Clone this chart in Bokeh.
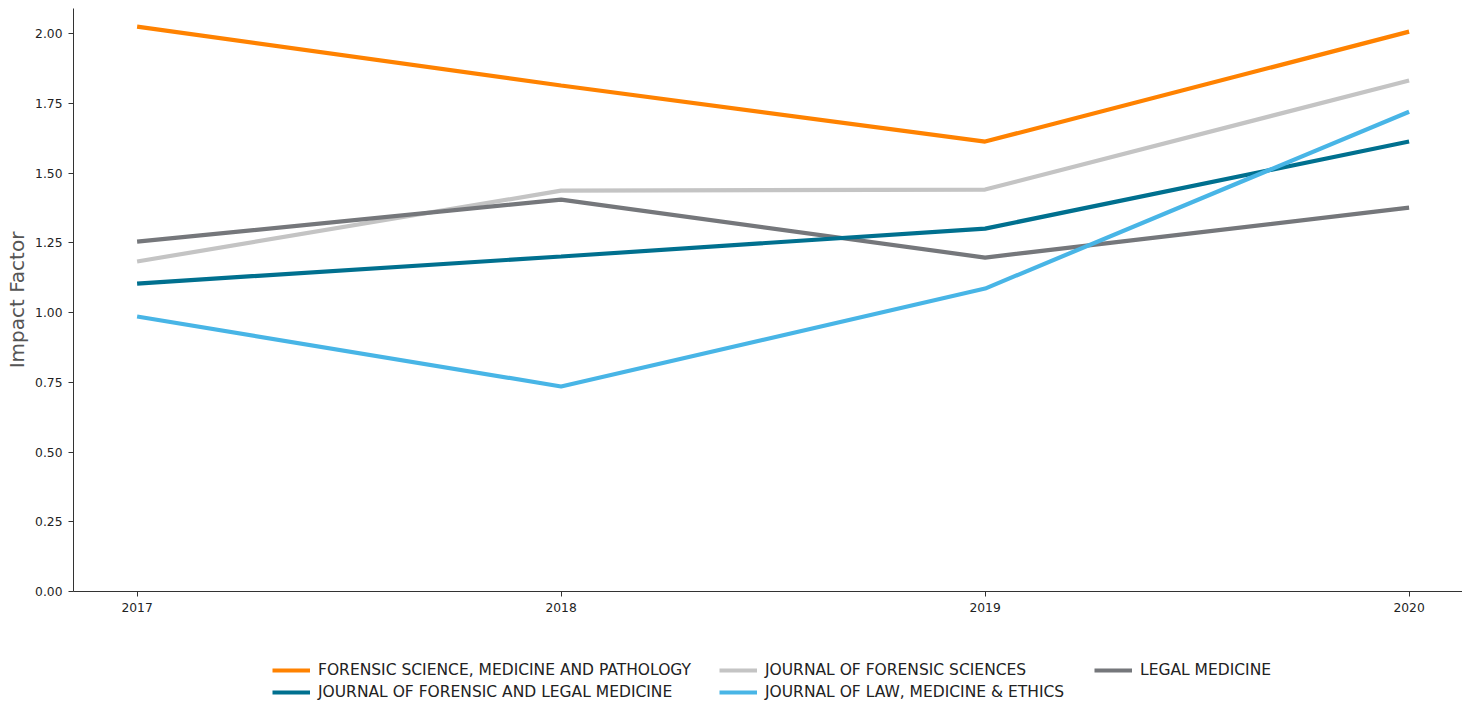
from bokeh.plotting import figure
from bokeh.layouts import column
from bokeh.models import Legend, LegendItem, Range1d, FixedTicker, NumeralTickFormatter
from bokeh.embed import file_html
from bokeh.resources import INLINE

years = [2017, 2018, 2019, 2020]
forensic_sci_med_path = [2.025, 1.814, 1.613, 2.007]
j_forensic_sciences = [1.183, 1.437, 1.441, 1.832]
legal_medicine = [1.254, 1.405, 1.197, 1.376]
j_forensic_legal_med = [1.104, 1.201, 1.301, 1.613]
j_law_med_ethics = [0.986, 0.735, 1.086, 1.720]

names = ["FORENSIC SCIENCE, MEDICINE AND PATHOLOGY", "JOURNAL OF FORENSIC SCIENCES",
         "LEGAL MEDICINE", "JOURNAL OF FORENSIC AND LEGAL MEDICINE",
         "JOURNAL OF LAW, MEDICINE & ETHICS"]
series = [forensic_sci_med_path, j_forensic_sciences, legal_medicine,
          j_forensic_legal_med, j_law_med_ethics]
colors = ["#FF8200", "#C4C4C4", "#75777B", "#00708F", "#48B5E6"]

p = figure(frame_width=1389, frame_height=583, output_backend="svg", toolbar_location=None,
           x_range=Range1d(2016.85, 2016.85 + 1389 / 424), y_range=Range1d(0, 2.09),
           min_border_left=73, min_border_right=0, min_border_top=8, min_border_bottom=30)
p.grid.visible = False
p.outline_line_color = None

for s, c in zip(series, colors):
    p.line(years, s, line_color=c, line_width=4.2)

p.xaxis.ticker = FixedTicker(ticks=years)
p.yaxis.ticker = FixedTicker(ticks=[0, 0.25, 0.5, 0.75, 1.0, 1.25, 1.5, 1.75, 2.0])
p.yaxis.formatter = NumeralTickFormatter(format="0.00")
for ax in (p.xaxis, p.yaxis):
    ax.axis_line_color = "#333333"
    ax.major_tick_line_color = "#333333"
    ax.major_tick_out = 5
    ax.major_tick_in = 0
    ax.minor_tick_line_color = None
    ax.major_label_text_font = "DejaVu Sans"
    ax.major_label_text_font_size = "12.3px"
    ax.major_label_text_color = "#222222"
    ax.major_label_standoff = 6
p.yaxis.axis_label = "Impact Factor"
p.yaxis.axis_label_text_font = "DejaVu Sans"
p.yaxis.axis_label_text_font_style = "normal"
p.yaxis.axis_label_text_font_size = "20px"
p.yaxis.axis_label_text_color = "#555555"
p.yaxis.axis_label_standoff = 3

# legend strip below
lg_fig = figure(width=1462, height=83, output_backend="svg", toolbar_location=None,
                x_range=Range1d(0, 1), y_range=Range1d(0, 1),
                min_border=0, outline_line_color=None)
lg_fig.axis.visible = False
lg_fig.grid.visible = False
dummies = [lg_fig.line([-10, -9], [-10, -9], line_color=c, line_width=4.2) for c in colors]

columns_idx = [[0, 3], [1, 4], [2]]
col_x = [199, 646, 1021]
for idxs, lx in zip(columns_idx, col_x):
    items = [LegendItem(label=names[i], renderers=[dummies[i]]) for i in idxs]
    lg = Legend(items=items, orientation="vertical",
                label_text_font="DejaVu Sans", label_text_font_size="15.5px",
                label_text_color="#222222", border_line_color=None,
                background_fill_alpha=0,
                glyph_width=38, glyph_height=16, label_height=18, spacing=4,
                label_standoff=8, padding=0, margin=0,
                location=(lx, 3 if len(idxs) == 2 else 25))
    lg_fig.add_layout(lg, "center")

layout = column(p, lg_fig, spacing=0)
open("out.html", "w").write(file_html(layout, INLINE))
